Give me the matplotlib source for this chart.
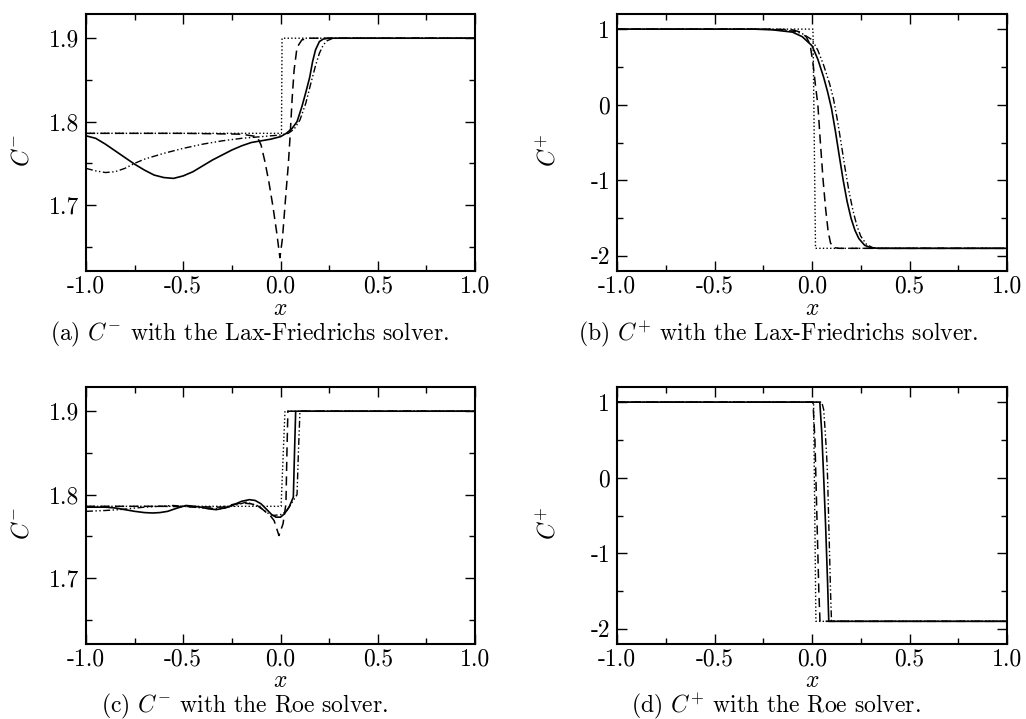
import matplotlib

matplotlib.use("Agg")
import matplotlib.pyplot as plt
from matplotlib.ticker import MultipleLocator

plt.rcParams["font.family"] = "serif"
plt.rcParams["font.serif"] = ["cmr10", "DejaVu Serif"]
plt.rcParams["mathtext.fontset"] = "cm"
plt.rcParams["axes.unicode_minus"] = False
plt.rcParams["axes.formatter.use_mathtext"] = True

# ---- data ----
x_ticks = [-1.0, -0.5, 0.0, 0.5, 1.0]
x_tick_labels = ["-1.0", "-0.5", "0.0", "0.5", "1.0"]
cm_ticks = [1.7, 1.8, 1.9]
cm_tick_labels = ["1.7", "1.8", "1.9"]
cp_ticks = [-2, -1, 0, 1]
cp_tick_labels = ["-2", "-1", "0", "1"]

# (a) C- Lax-Friedrichs
a_exact_x = [-1.0, 0.005, 0.008, 1.0]
a_exact_y = [1.786, 1.786, 1.9, 1.9]
a_dash_x = [-1.0, -0.5, -0.2, -0.12, -0.10, -0.08, -0.06, -0.04, -0.02, -0.003,
            0.01, 0.02, 0.03, 0.04, 0.05, 0.06, 0.07, 0.085, 0.11, 0.15, 1.0]
a_dash_y = [1.786, 1.786, 1.785, 1.782, 1.772, 1.752, 1.728, 1.70, 1.668, 1.637,
            1.66, 1.69, 1.72, 1.748, 1.785, 1.828, 1.862, 1.889, 1.898, 1.9, 1.9]
a_solid_x = [-1.0, -0.95, -0.9, -0.85, -0.8, -0.75, -0.7, -0.65, -0.6, -0.55, -0.5,
             -0.45, -0.4, -0.35, -0.3, -0.25, -0.2, -0.15, -0.1, -0.05, 0.0, 0.03,
             0.06, 0.085, 0.11, 0.13, 0.15, 0.165, 0.18, 0.2, 0.22, 0.25, 1.0]
a_solid_y = [1.783, 1.780, 1.773, 1.765, 1.757, 1.749, 1.742, 1.736, 1.733, 1.732, 1.735,
             1.740, 1.747, 1.754, 1.760, 1.766, 1.771, 1.775, 1.777, 1.779, 1.782, 1.786,
             1.792, 1.80, 1.818, 1.835, 1.853, 1.872, 1.886, 1.896, 1.899, 1.9, 1.9]
a_ddot_x = [-1.0, -0.95, -0.9, -0.85, -0.8, -0.75, -0.7, -0.6, -0.5, -0.4, -0.3, -0.2,
            -0.1, 0.0, 0.04, 0.07, 0.1, 0.13, 0.155, 0.18, 0.2, 0.22, 0.24, 0.27, 1.0]
a_ddot_y = [1.744, 1.741, 1.739, 1.740, 1.744, 1.750, 1.755, 1.762, 1.768, 1.773, 1.777, 1.780,
            1.782, 1.784, 1.786, 1.791, 1.802, 1.822, 1.845, 1.867, 1.882, 1.892, 1.897, 1.9, 1.9]

# (b) C+ Lax-Friedrichs
b_exact_x = [-1.0, 0.005, 0.018, 1.0]
b_exact_y = [1.0, 1.0, -1.9, -1.9]
b_dash_x = [-1.0, -0.2, -0.1, -0.06, -0.03, -0.01, 0.005, 0.018, 0.03, 0.043, 0.057,
            0.07, 0.083, 0.095, 0.11, 0.14, 1.0]
b_dash_y = [1.0, 1.0, 0.99, 0.96, 0.9, 0.8, 0.55, 0.25, 0.0, -0.5, -1.0,
            -1.38, -1.68, -1.83, -1.89, -1.9, -1.9]
b_solid_x = [-1.0, -0.3, -0.2, -0.1, -0.05, 0.0, 0.03, 0.06, 0.08, 0.1, 0.12, 0.14,
             0.16, 0.18, 0.2, 0.22, 0.24, 0.27, 0.3, 0.34, 1.0]
b_solid_y = [1.0, 1.0, 0.99, 0.96, 0.9, 0.78, 0.6, 0.36, 0.17, -0.05, -0.35, -0.68,
             -1.0, -1.28, -1.5, -1.66, -1.77, -1.86, -1.89, -1.9, -1.9]
b_ddot_x = [-1.0, -0.3, -0.2, -0.1, -0.05, 0.0, 0.03, 0.06, 0.09, 0.11, 0.13, 0.15,
            0.17, 0.19, 0.21, 0.23, 0.25, 0.28, 0.31, 0.35, 1.0]
b_ddot_y = [1.0, 1.0, 0.995, 0.975, 0.94, 0.86, 0.72, 0.52, 0.28, 0.08, -0.2, -0.52,
            -0.85, -1.15, -1.4, -1.6, -1.74, -1.85, -1.89, -1.9, -1.9]

# (c) C- Roe
c_exact_x = [-1.0, 0.003, 0.023, 1.0]
c_exact_y = [1.786, 1.786, 1.9, 1.9]
c_dash_x = [-1.0, -0.6, -0.3, -0.25, -0.2, -0.15, -0.1, -0.075, -0.05, -0.033, -0.008,
            0.013, 0.028, 0.033, 0.038, 1.0]
c_dash_y = [1.786, 1.786, 1.785, 1.788, 1.790, 1.789, 1.784, 1.779, 1.774, 1.769, 1.751,
            1.765, 1.789, 1.85, 1.9, 1.9]
c_solid_x = [-1.0, -0.9, -0.85, -0.8, -0.75, -0.7, -0.657, -0.62, -0.58, -0.53, -0.486,
             -0.44, -0.41, -0.37, -0.33, -0.29, -0.25, -0.2, -0.16, -0.13, -0.1, -0.07,
             -0.045, -0.023, 0.0, 0.02, 0.044, 0.066, 0.072, 0.078, 1.0]
c_solid_y = [1.785, 1.785, 1.784, 1.782, 1.780, 1.7785, 1.778, 1.7785, 1.780, 1.784, 1.787,
             1.786, 1.785, 1.783, 1.782, 1.784, 1.787, 1.792, 1.794, 1.793, 1.789, 1.782,
             1.776, 1.773, 1.773, 1.777, 1.785, 1.797, 1.85, 1.9, 1.9]
c_ddot_x = [-1.0, -0.9, -0.83, -0.7, -0.55, -0.4, -0.3, -0.22, -0.177, -0.12, -0.06,
            -0.04, 0.0, 0.03, 0.066, 0.085, 0.092, 0.1, 1.0]
c_ddot_y = [1.780, 1.781, 1.782, 1.785, 1.787, 1.784, 1.783, 1.788, 1.791, 1.787, 1.777,
            1.775, 1.776, 1.780, 1.793, 1.80, 1.85, 1.9, 1.9]

# (d) C+ Roe
d_exact_x = [-1.0, 0.008, 0.02, 1.0]
d_exact_y = [1.0, 1.0, -1.9, -1.9]
d_dash_x = [-1.0, 0.005, 0.015, 0.025, 0.035, 0.041, 1.0]
d_dash_y = [1.0, 1.0, 0.5, -0.5, -1.5, -1.9, -1.9]
d_solid_x = [-1.0, 0.04, 0.05, 0.06, 0.07, 0.08, 0.086, 1.0]
d_solid_y = [1.0, 1.0, 0.6, 0.0, -0.65, -1.4, -1.9, -1.9]
d_ddot_x = [-1.0, 0.05, 0.06, 0.068, 0.075, 0.08, 0.085, 0.09, 0.095, 0.1, 1.0]
d_ddot_y = [1.0, 1.0, 0.9, 0.6, 0.3, 0.0, -0.5, -1.0, -1.5, -1.9, -1.9]

captions = [
    r"(a) $C^{-}$ with the Lax-Friedrichs solver.",
    r"(b) $C^{+}$ with the Lax-Friedrichs solver.",
    r"(c) $C^{-}$ with the Roe solver.",
    r"(d) $C^{+}$ with the Roe solver.",
]

STYLE_EXACT = dict(color="black", lw=1.0, linestyle=(0, (1, 1.6)))
STYLE_DASH = dict(color="black", lw=1.1, linestyle=(0, (6, 3.5)))
STYLE_SOLID = dict(color="black", lw=1.2, linestyle="-")
STYLE_DDOT = dict(color="black", lw=1.0, linestyle=(0, (5, 1.8, 1, 1.8, 1, 1.8)))


def style_axes(ax, yticks, ylabels, ylim, minor_y, ylabel, ylabel_x, xlabel_y):
    ax.set_xlim(-1.0, 1.0)
    ax.set_ylim(*ylim)
    ax.set_xticks(x_ticks, labels=x_tick_labels)
    ax.set_yticks(yticks, labels=ylabels)
    ax.xaxis.set_minor_locator(MultipleLocator(0.25))
    ax.yaxis.set_minor_locator(MultipleLocator(minor_y))
    ax.tick_params(which="both", direction="in", top=True, right=True, labelsize=17, width=1.0)
    ax.tick_params(which="major", length=7)
    ax.tick_params(which="minor", length=4)
    ax.tick_params(axis="x", pad=3)
    ax.tick_params(axis="y", pad=5)
    for s in ax.spines.values():
        s.set_linewidth(1.5)
    ax.set_xlabel(r"$x$", fontsize=17)
    ax.xaxis.set_label_coords(0.5, xlabel_y)
    ax.set_ylabel(ylabel, fontsize=17)
    ax.yaxis.set_label_coords(ylabel_x, 0.47)


fig = plt.figure(figsize=(10.26, 7.19), dpi=100)
W, H = 1026, 719

ax_a = fig.add_axes([86 / W, 1 - 271 / H, 389 / W, 257 / H])
ax_b = fig.add_axes([617 / W, 1 - 271 / H, 390 / W, 257 / H])
ax_c = fig.add_axes([86 / W, 1 - 644 / H, 389 / W, 257 / H])
ax_d = fig.add_axes([617 / W, 1 - 644 / H, 390 / W, 257 / H])

panels = [
    (ax_a, (a_exact_x, a_exact_y), (a_dash_x, a_dash_y), (a_solid_x, a_solid_y), (a_ddot_x, a_ddot_y)),
    (ax_b, (b_exact_x, b_exact_y), (b_dash_x, b_dash_y), (b_solid_x, b_solid_y), (b_ddot_x, b_ddot_y)),
    (ax_c, (c_exact_x, c_exact_y), (c_dash_x, c_dash_y), (c_solid_x, c_solid_y), (c_ddot_x, c_ddot_y)),
    (ax_d, (d_exact_x, d_exact_y), (d_dash_x, d_dash_y), (d_solid_x, d_solid_y), (d_ddot_x, d_ddot_y)),
]
for ax, ex, da, so, dd in panels:
    ax.plot(*ex, **STYLE_EXACT)
    ax.plot(*da, **STYLE_DASH)
    ax.plot(*so, **STYLE_SOLID)
    ax.plot(*dd, **STYLE_DDOT)

style_axes(ax_a, cm_ticks, cm_tick_labels, (1.621, 1.929), 0.05, r"$C^{-}$", -0.136, -0.105)
style_axes(ax_c, cm_ticks, cm_tick_labels, (1.621, 1.929), 0.05, r"$C^{-}$", -0.136, -0.1)
style_axes(ax_b, cp_ticks, cp_tick_labels, (-2.2, 1.2), 0.5, r"$C^{+}$", -0.146, -0.105)
style_axes(ax_d, cp_ticks, cp_tick_labels, (-2.2, 1.2), 0.5, r"$C^{+}$", -0.146, -0.1)

cap_pos = [(250, 334), (778, 334), (245, 706), (776, 706)]
for text, (cx, cy) in zip(captions, cap_pos):
    fig.text(cx / W, 1 - cy / H, text, ha="center", va="center", fontsize=17)

fig.savefig("out.png", dpi=100)
